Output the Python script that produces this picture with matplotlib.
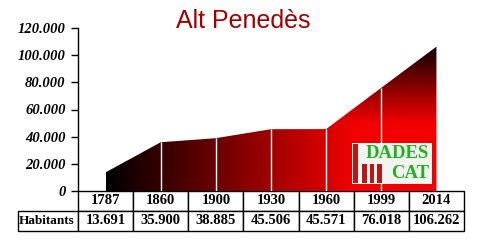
import numpy as np
import matplotlib.pyplot as plt
from matplotlib.patches import Rectangle

years = ['1787', '1860', '1900', '1930', '1960', '1999', '2014']
population = [13691, 35900, 38885, 45506, 45571, 76018, 106262]
pop_labels = ['13.691', '35.900', '38.885', '45.506', '45.571', '76.018', '106.262']
row_label = 'Habitants'
yticks = [0, 20000, 40000, 60000, 80000, 100000, 120000]
title = 'Alt Penedès'

fig = plt.figure(figsize=(4.8, 2.4), dpi=100)
ax = fig.add_axes([78 / 480, 1 - 191 / 240, 386 / 480, 163 / 240])

x = np.arange(len(years))
ax.set_xlim(-0.5, len(years) - 0.5)
ax.set_ylim(0, 120000)

# area with a black -> red (left to right) and red -> dark (bottom to top) gradient
poly = ax.fill_between(x, 0, population, color='none', lw=0)
gx = np.linspace(0, len(years) - 1, 300)
gy = np.linspace(0, 120000, 200)
GX, GY = np.meshgrid(gx, gy)
fx = np.clip(GX / 4.5, 0, 1)
fy = np.clip((110000 - GY) / 60000, 0, 1)
rgb = np.zeros(GX.shape + (3,))
rgb[..., 0] = 0.95 * fx * fy
img = ax.imshow(rgb, extent=[0, len(years) - 1, 0, 120000], origin='lower',
                aspect='auto', interpolation='bilinear', zorder=1)
img.set_clip_path(poly.get_paths()[0], transform=ax.transData)
ax.vlines(x[1:-1], 0, population[1:-1], color='white', lw=1, zorder=2)

# axis styling
for s in ['top', 'right', 'bottom']:
    ax.spines[s].set_visible(False)
ax.spines['left'].set_linewidth(1)
ax.set_xticks([])
ax.set_yticks(yticks)
ax.set_yticklabels(['0' if v == 0 else f'{v:,}'.replace(',', '.') for v in yticks],
                   family='Liberation Serif', weight='bold', style='italic', fontsize=10.5)
ax.tick_params(axis='y', direction='out', length=5, width=1, pad=4)

# data table below the plot
cells = [[''] + years, [row_label] + pop_labels]
rl = 60 / 386
tab = ax.table(cellText=cells, colWidths=[rl] + [1 / len(years)] * len(years),
               cellLoc='center', bbox=[-rl, -40 / 163, 1 + rl, 40 / 163])
tab.auto_set_font_size(False)
for (r, c), cell in tab.get_celld().items():
    cell.set_linewidth(1)
    cell.PAD = 0.02
    t = cell.get_text()
    t.set_fontsize(10.5)
    t.set_family('Liberation Serif')
    t.set_weight('bold')
    if r == 0 and c == 0:
        cell.visible_edges = 'open'
    if r == 1 and c == 0:
        t.set_fontsize(9.5)
        cell.set_text_props(ha='left')
        cell._loc = 'left'

fig.text(243 / 480, 1 - 21 / 240, title, color='#a00000', fontsize=18,
         family='Liberation Sans', ha='center', va='center')

# small "DADES CAT" badge
lx, ly, lw_, lh = 352 / 480, 1 - 184 / 240, 80 / 480, 41 / 240
fig.patches.append(Rectangle((lx, ly), lw_, lh, transform=fig.transFigure,
                             facecolor='#f2f4f0', edgecolor='none', zorder=5))
for bx, bh in [(0.01, 0.95), (0.13, 0.47), (0.22, 0.47), (0.31, 0.47)]:
    fig.patches.append(Rectangle((lx + bx * lw_, ly + 0.02 * lh), 0.06 * lw_, bh * lh,
                                 transform=fig.transFigure, facecolor='#b81818',
                                 edgecolor='none', zorder=6))
fig.text(lx + 0.57 * lw_, ly + 0.74 * lh, 'DADES', color='#20b020', fontsize=13.5,
         family='Liberation Serif', weight='bold', ha='center', va='center', zorder=7)
fig.text(lx + 0.73 * lw_, ly + 0.26 * lh, 'CAT', color='#20b020', fontsize=13.5,
         family='Liberation Serif', weight='bold', ha='center', va='center', zorder=7)

fig.savefig('out.png', dpi=100)
